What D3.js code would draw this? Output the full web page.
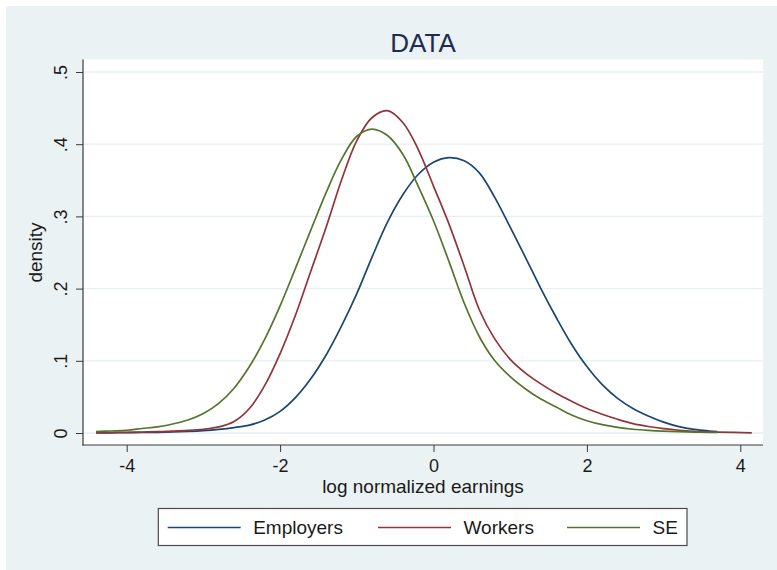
<!DOCTYPE html>
<html>
<head>
<meta charset="utf-8">
<script src="https://cdn.jsdelivr.net/npm/d3@7"></script>
<style>
  html, body { margin: 0; padding: 0; background: #ffffff; }
  svg { display: block; font-family: "Liberation Sans", Arial, Helvetica, sans-serif; }
</style>
</head>
<body>
<svg id="chart" width="777" height="570"></svg>
<script>
// Evaluation points (log normalized earnings)
const earnings = [-4.4, -4.2, -4.0, -3.8, -3.6, -3.4, -3.2, -3.0, -2.8, -2.6, -2.4, -2.2,
  -2.0, -1.8, -1.6, -1.4, -1.2, -1.0, -0.8, -0.6, -0.4, -0.2, 0.0, 0.2, 0.4, 0.6, 0.8,
  1.0, 1.2, 1.4, 1.6, 1.8, 2.0, 2.2, 2.4, 2.6, 2.8, 3.0, 3.2, 3.4, 3.6, 3.7, 4.15];

// Kernel density estimates per group
const employers = [0.0002, 0.0003, 0.0005, 0.0007, 0.001, 0.0015, 0.0022, 0.0033, 0.005, 0.0075, 0.011, 0.018,
  0.030, 0.049, 0.075, 0.108, 0.148, 0.193, 0.244, 0.292, 0.330, 0.358, 0.375, 0.3815, 0.377, 0.360, 0.326,
  0.285, 0.243, 0.200, 0.160, 0.123, 0.092, 0.067, 0.048, 0.034, 0.0235, 0.015, 0.0088, 0.005, 0.0028, 0.002, null];

const workers = [0.0005, 0.0007, 0.001, 0.0013, 0.0018, 0.0025, 0.0035, 0.0052, 0.0085, 0.016, 0.034, 0.066,
  0.110, 0.163, 0.224, 0.285, 0.350, 0.405, 0.437, 0.4465, 0.430, 0.393, 0.342, 0.290, 0.231, 0.170, 0.130,
  0.102, 0.083, 0.068, 0.055, 0.044, 0.034, 0.026, 0.019, 0.013, 0.009, 0.006, 0.0038, 0.0024, 0.0015, 0.0012, 0.0003];

const selfEmployed = [0.002, 0.0028, 0.0038, 0.0062, 0.0085, 0.0125, 0.018, 0.027, 0.041, 0.062, 0.092, 0.130,
  0.176, 0.228, 0.281, 0.333, 0.379, 0.411, 0.421, 0.412, 0.386, 0.342, 0.294, 0.238, 0.180, 0.133, 0.100,
  0.078, 0.061, 0.047, 0.036, 0.025, 0.017, 0.0115, 0.0078, 0.0052, 0.0036, 0.0025, 0.0018, 0.0013, 0.0009, 0.0008, null];

const seriesNames = ["Employers", "Workers", "SE"];
const seriesValues = [employers, workers, selfEmployed];
const seriesColors = ["#1a476f", "#90353b", "#55752f"];

const xTicks = [-4, -2, 0, 2, 4];
const yTicks = [0, 0.1, 0.2, 0.3, 0.4, 0.5];

const titleText = "DATA";
const xTitle = "log normalized earnings";
const yTitle = "density";

// Layout
const W = 777, H = 570;
const plot = { left: 83, right: 763, top: 59.5, bottom: 445 };

const svg = d3.select("#chart");

// Outer graph region
svg.append("rect").attr("x", 6).attr("y", 6).attr("width", W - 6).attr("height", H - 6)
  .attr("fill", "#eaf2f3");

// Plot region
svg.append("rect").attr("x", plot.left).attr("y", plot.top)
  .attr("width", plot.right - plot.left).attr("height", plot.bottom - plot.top)
  .attr("fill", "#ffffff");

const x = d3.scaleLinear().domain([-4, 4]).range([126.7, 740.3]);
const y = d3.scaleLinear().domain([0, 0.5]).range([433, 72]);

// Horizontal grid lines
svg.append("g").selectAll("line").data(yTicks).join("line")
  .attr("x1", plot.left).attr("x2", plot.right)
  .attr("y1", d => y(d)).attr("y2", d => y(d))
  .attr("stroke", "#e6eff1").attr("stroke-width", 1.3);

// Density curves
const line = d3.line()
  .defined(d => d[1] !== null)
  .x(d => x(d[0]))
  .y(d => y(d[1]))
  .curve(d3.curveCatmullRom.alpha(0.5));

seriesValues.forEach((vals, i) => {
  svg.append("path")
    .datum(earnings.map((e, j) => [e, vals[j]]))
    .attr("fill", "none")
    .attr("stroke", seriesColors[i])
    .attr("stroke-width", 1.7)
    .attr("stroke-linejoin", "round")
    .attr("d", line);
});

const axisColor = "#3a3a3a";
const labelColor = "#1a1a1a";

// Y axis
const yAxis = svg.append("g").attr("transform", `translate(${plot.left},0)`)
  .call(d3.axisLeft(y).tickValues(yTicks).tickSize(7)
    .tickFormat(d => d === 0 ? "0" : "." + Math.round(d * 10)));
yAxis.select(".domain").remove();
yAxis.selectAll(".tick line").attr("stroke", axisColor);
yAxis.selectAll(".tick text")
  .attr("x", null).attr("dy", null)
  .attr("text-anchor", "middle")
  .attr("transform", "translate(-16.5,0) rotate(-90)")
  .attr("fill", labelColor)
  .style("font-size", "18px");

// X axis
const xAxis = svg.append("g").attr("transform", `translate(0,${plot.bottom})`)
  .call(d3.axisBottom(x).tickValues(xTicks).tickSize(7).tickFormat(d => String(d)));
xAxis.select(".domain").remove();
xAxis.selectAll(".tick line").attr("stroke", axisColor);
xAxis.selectAll(".tick text")
  .attr("y", 26.5).attr("dy", null)
  .attr("fill", labelColor)
  .style("font-size", "18px");

// Axis lines
svg.append("line").attr("x1", plot.left).attr("x2", plot.left)
  .attr("y1", plot.top).attr("y2", plot.bottom + 0.5)
  .attr("stroke", axisColor).attr("stroke-width", 1.2);
svg.append("line").attr("x1", plot.left - 0.5).attr("x2", plot.right)
  .attr("y1", plot.bottom).attr("y2", plot.bottom)
  .attr("stroke", axisColor).attr("stroke-width", 1.2);

// Titles
svg.append("text").attr("x", (plot.left + plot.right) / 2).attr("y", 52)
  .attr("text-anchor", "middle").attr("fill", "#1f2b52")
  .style("font-size", "26px").text(titleText);

svg.append("text").attr("x", (plot.left + plot.right) / 2).attr("y", 493)
  .attr("text-anchor", "middle").attr("fill", labelColor)
  .style("font-size", "19px").text(xTitle);

svg.append("text").attr("transform", `translate(42,252.5) rotate(-90)`)
  .attr("text-anchor", "middle").attr("fill", labelColor)
  .style("font-size", "19px").text(yTitle);

// Legend
const legend = svg.append("g");
legend.append("rect").attr("x", 158.3).attr("y", 508.5).attr("width", 528.7).attr("height", 37)
  .attr("fill", "#ffffff").attr("stroke", "#4a4a4a").attr("stroke-width", 1.2);
const itemStarts = [167.7, 378, 567];
seriesNames.forEach((name, i) => {
  const x0 = itemStarts[i];
  legend.append("line").attr("x1", x0).attr("x2", x0 + 73)
    .attr("y1", 527.5).attr("y2", 527.5)
    .attr("stroke", seriesColors[i]).attr("stroke-width", 1.7);
  legend.append("text").attr("x", x0 + 85.5).attr("y", 534.3)
    .attr("fill", labelColor).style("font-size", "19px").text(name);
});
</script>
</body>
</html>
